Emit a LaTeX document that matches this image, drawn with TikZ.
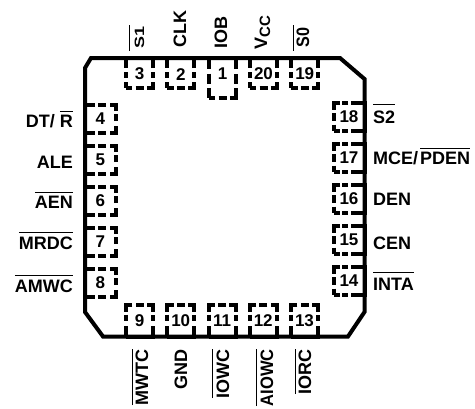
\documentclass[tikz,border=0pt]{standalone}
\usepackage{fontspec}
\setmainfont{Liberation Sans}
\usetikzlibrary{positioning}
\newcommand{\ovl}[2][3pt]{\leavevmode\vbox{\hrule height 1pt\kern#1\hbox{#2}}}
\tikzset{
  my pin/.style={
    draw,
    line width=4pt,
    inner sep=0pt,
    outer sep=0pt,
    rectangle,
    font=\fontsize{17}{17}\bfseries
  },
  my pin top/.style={
    my pin,
    minimum width=27pt,
    minimum height=30pt,
    text height=14pt,
    dash pattern=on 6.25pt off 3.25pt on 8pt off 3.25pt on 12.25pt off 4.5pt on 5.5pt off 4pt on 16.25pt off 3.25pt on 8pt off 3.25pt on 16.25pt off 4pt on 5.5pt off 4.5pt on 6pt
  },
  my pin tall/.style={
    my pin,
    minimum width=27pt,
    minimum height=39.5pt,
    text depth=8.5pt,
    dash pattern=on 6.25pt off 3.25pt on 8pt off 3.25pt on 15.75pt off 4.5pt on 10pt off 4.5pt on 17.25pt off 3.25pt on 8pt off 3.25pt on 17.25pt off 4.5pt on 10pt off 4.5pt on 9.5pt
  },
  my pin bottom/.style={
    my pin,
    minimum width=27pt,
    minimum height=31.5pt,
    dash pattern=on 37.5pt off 5.5pt on 6pt off 3pt on 12.75pt off 3.25pt on 8pt off 3.25pt on 12.75pt off 3pt on 6pt off 5.5pt on 10.5pt
  },
  my pin left/.style={
    my pin,
    minimum width=30.5pt,
    minimum height=28pt,
    dash pattern=on 10pt off 3pt on 8pt off 4pt on 12.5pt off 4.5pt on 7.5pt off 2.5pt on 12pt off 4pt on 8pt off 3pt on 38pt
  },
  my pin right/.style={
    my pin,
    minimum width=31pt,
    minimum height=28pt,
    dash pattern=on 6.5pt off 2pt on 6pt off 3pt on 55pt off 3pt on 6pt off 2pt on 13pt off 3.5pt on 7.5pt off 4pt on 6.5pt
  },
  my label/.style={
    inner sep=0pt,
    font=\fontsize{18}{18}\bfseries
  },
  my body/.style={
    draw,
    line width=4pt,
    line join=miter
  }
}
\begin{document}
\begin{tikzpicture}[x=1pt,y=-1pt,node distance=14.25pt]
\useasboundingbox (0,0) rectangle (475,408);
% top row
\node[my pin top]               (3)  at (139.5,73) {3};
\node[my pin top,right=of 3]    (2)  {2};
\node[my pin tall]              (1)  at (222.5,77.75) {1};
\node[my pin top]               (20) at (263.5,73) {20};
\node[my pin top,right=of 20]   (19) {19};
% bottom row
\node[my pin bottom]             (9)  at (139.5,320.75) {9};
\node[my pin bottom,right=of 9]  (10) {10};
\node[my pin bottom,right=of 10] (11) {11};
\node[my pin bottom,right=of 11] (12) {12};
\node[my pin bottom,right=of 12] (13) {13};
\begin{scope}[node distance=13pt]
% left column
\node[my pin left]              (4)  at (100.25,118.5) {4};
\node[my pin left,below=of 4]   (5)  {5};
\node[my pin left,below=of 5]   (6)  {6};
\node[my pin left,below=of 6]   (7)  {7};
\node[my pin left,below=of 7]   (8)  {8};
% right column
\node[my pin right]             (18) at (349,117) {18};
\node[my pin right,below=of 18] (17) {17};
\node[my pin right,below=of 17] (16) {16};
\node[my pin right,below=of 16] (15) {15};
\node[my pin right,below=of 15] (14) {14};
\end{scope}
% package
\draw[my body] (91,58) -- (340,58) -- (364.5,79) -- (364.5,312) -- (348,336.5)
               -- (103,336.5) -- (85,312) -- (85,68) -- cycle;
% top labels
\node[my label,rotate=90,anchor=base west] (s1)  at (144,51)  {\ovl[5pt]{\kern2pt\scalebox{1}[.75]{S1}\kern2pt}};
\node[my label,rotate=90,anchor=base west] (clk) at (186,48)  {CLK};
\node[my label,rotate=90,anchor=base west] (iob) at (227,49)  {IOB};
\node[my label,rotate=90,anchor=base west] (vcc) at (267,50)  {V\raisebox{-3pt}{\fontsize{15}{15}\selectfont CC}};
\node[my label,rotate=90,anchor=base west] (s0)  at (309,51)  {\ovl[2pt]{\kern3pt\scalebox{.9}[1]{S0}\kern3pt}};
% left labels
\node[my label,anchor=base east] (dtr)  at (73,127) {DT/ \ovl{R}};
\node[my label,anchor=base east] (ale)  at (73,168) {ALE};
\node[my label,anchor=base east] (aen)  at (73,208) {\ovl{AEN}};
\node[my label,anchor=base east] (mrdc) at (73,249) {\ovl{MRDC}};
\node[my label,anchor=base east] (amwc) at (73,292) {\ovl{AMWC}};
% right labels
\node[my label,anchor=base west] (s2)   at (373,123) {\ovl[5pt]{S2}};
\node[my label,anchor=base west] (mce)  at (373,164) {MCE/\kern2pt\ovl{PDEN}};
\node[my label,anchor=base west] (den)  at (373,205) {DEN};
\node[my label,anchor=base west] (cen)  at (373,249) {CEN};
\node[my label,anchor=base west] (inta) at (373,290) {\ovl[5pt]{INTA}};
% bottom labels
\node[my label,rotate=90,anchor=base east] (mwtc)  at (148,349) {\ovl[2pt]{MWTC}};
\node[my label,rotate=90,anchor=base east] (gnd)   at (187,349) {GND};
\node[my label,rotate=90,anchor=base east] (iowc)  at (229,349) {\ovl{IOWC}};
\node[my label,rotate=90,anchor=base east] (aiowc) at (273,349) {\ovl{\scalebox{.92}[1]{AIOWC}}};
\node[my label,rotate=90,anchor=base east] (iorc)  at (311,349) {\ovl[2pt]{IORC}};
\end{tikzpicture}
\end{document}
